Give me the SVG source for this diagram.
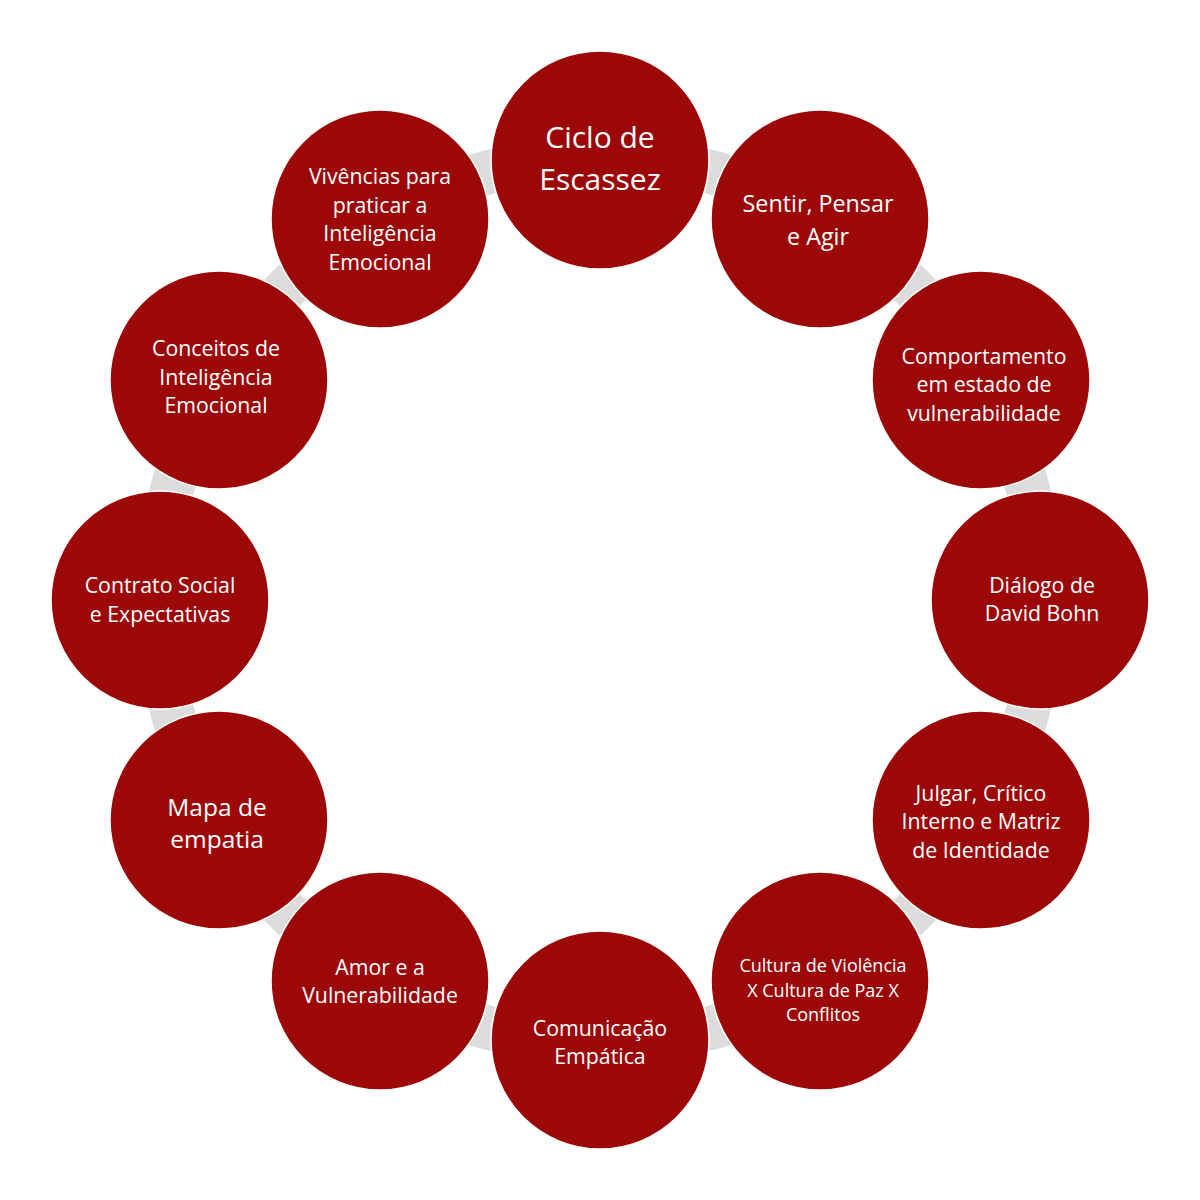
<svg xmlns="http://www.w3.org/2000/svg" width="1200" height="1200" viewBox="0 0 1200 1200">
<style>
.ring{fill:none;stroke:#dcdcdc;stroke-width:44}
.node{fill:#9c0808;stroke:#ffffff;stroke-width:1.5}
text{font-family:"Open Sans","Liberation Sans",sans-serif;fill:#ffffff;text-anchor:middle}
.t20{font-size:21.3px}
.t17{font-size:18px}
.t22{font-size:23.3px}
.t24{font-size:24.5px}
.t29{font-size:30px}
</style>
<rect width="1200" height="1200" fill="#ffffff"/>
<g id="connectors">
<circle class="ring" cx="600" cy="600" r="442"/>
</g>
<g id="n0"><circle class="node" cx="600" cy="160" r="109"/><text class="t29" x="600" y="148">Ciclo de</text><text class="t29" x="600" y="190">Escassez</text></g>
<g id="n1"><circle class="node" cx="820" cy="219" r="109"/><text class="t22" x="818" y="212">Sentir, Pensar</text><text class="t22" x="818" y="245">e Agir</text></g>
<g id="n2"><circle class="node" cx="981" cy="380" r="109"/><text class="t20" x="984" y="364">Comportamento</text><text class="t20" x="984" y="392">em estado de</text><text class="t20" x="984" y="421">vulnerabilidade</text></g>
<g id="n3"><circle class="node" cx="1040" cy="600" r="109"/><text class="t20" x="1042" y="593">Diálogo de</text><text class="t20" x="1042" y="621">David Bohn</text></g>
<g id="n4"><circle class="node" cx="981" cy="820" r="109"/><text class="t20" x="981" y="801">Julgar, Crítico</text><text class="t20" x="981" y="829">Interno e Matriz</text><text class="t20" x="981" y="858">de Identidade</text></g>
<g id="n5"><circle class="node" cx="820" cy="981" r="109"/><text class="t17" x="823" y="972">Cultura de Violência</text><text class="t17" x="823" y="997">X Cultura de Paz X</text><text class="t17" x="823" y="1021">Conflitos</text></g>
<g id="n6"><circle class="node" cx="600" cy="1040" r="109"/><text class="t20" x="600" y="1036">Comunicação</text><text class="t20" x="600" y="1064">Empática</text></g>
<g id="n7"><circle class="node" cx="380" cy="981" r="109"/><text class="t20" x="380" y="975">Amor e a</text><text class="t20" x="380" y="1003">Vulnerabilidade</text></g>
<g id="n8"><circle class="node" cx="219" cy="820" r="109"/><text class="t24" x="217" y="816">Mapa de</text><text class="t24" x="217" y="848">empatia</text></g>
<g id="n9"><circle class="node" cx="160" cy="600" r="109"/><text class="t20" x="160" y="593">Contrato Social</text><text class="t20" x="160" y="622">e Expectativas</text></g>
<g id="n10"><circle class="node" cx="219" cy="380" r="109"/><text class="t20" x="216" y="356">Conceitos de</text><text class="t20" x="216" y="385">Inteligência</text><text class="t20" x="216" y="413">Emocional</text></g>
<g id="n11"><circle class="node" cx="380" cy="219" r="109"/><text class="t20" x="380" y="184">Vivências para</text><text class="t20" x="380" y="213">praticar a</text><text class="t20" x="380" y="241">Inteligência</text><text class="t20" x="380" y="270">Emocional</text></g>
</svg>
